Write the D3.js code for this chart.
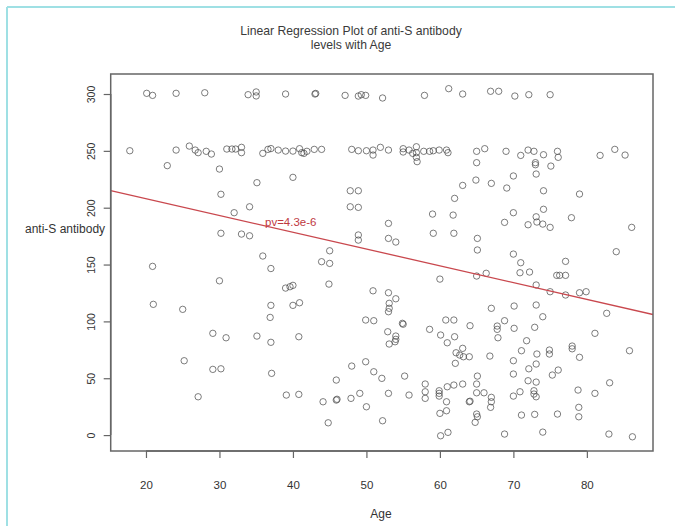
<!DOCTYPE html>
<html><head><meta charset="utf-8">
<script src="https://cdn.jsdelivr.net/npm/d3@7"></script>
<style>
body{margin:0;background:#fff;}
svg{display:block;font-family:"Liberation Sans",Arial,sans-serif;}
</style></head>
<body><svg id="c" width="675" height="526"></svg>
<script>
const titleLines = ["Linear Regression Plot of anti-S antibody", "levels with Age"];
const xLabel = "Age";
const yLabel = "anti-S antibody";
const pLabel = "pv=4.3e-6";
const xTicks = [20, 30, 40, 50, 60, 70, 80];
const yTicks = [0, 50, 100, 150, 200, 250, 300];
const regIntercept = 237.5;
const regSlope = -1.477;

const age = [20.1,20.9,24.1,28.0,33.9,35.0,35.0,39.0,43.0,43.1,47.1,48.9,49.3,49.9,52.2,57.9,61.2,63.1,66.9,68.0,70.2,72.1,75.0,
17.8,24.1,25.9,26.7,27.1,28.2,28.9,31.0,31.7,32.2,33.0,33.0,35.9,36.6,37.0,38.0,39.0,40.0,40.9,41.2,41.5,41.9,42.9,43.9,48.0,48.9,50.0,50.9,50.9,51.9,53.0,55.0,55.0,55.8,56.3,56.8,56.8,56.8,56.9,57.8,58.6,59.1,59.9,60.9,61.1,65.0,66.1,65.0,69.0,71.0,72.0,72.8,74.1,73.0,73.0,76.0,76.1,75.1,81.8,83.8,85.2,
22.9,30.0,40.0,35.1,30.2,34.1,32.0,30.2,33.0,34.1,35.9,37.0,20.9,47.8,48.9,47.8,48.9,63.1,64.9,67.0,62.0,59.0,61.8,68.8,53.0,59.1,61.9,48.9,48.9,53.0,54.0,65.1,65.1,45.0,43.9,45.0,70.0,73.1,69.1,74.1,79.0,70.0,74.1,73.1,73.2,74.0,75.0,72.0,77.9,86.1,70.0,71.0,77.1,84.0,
30.0,39.0,39.6,40.0,21.0,25.0,37.0,40.0,40.9,36.9,29.1,30.9,35.1,37.0,40.8,25.2,29.1,30.2,37.1,27.1,39.1,40.8,
44.9,60.0,65.0,66.3,50.9,53.0,54.0,53.1,53.1,53.0,49.9,51.0,54.9,55.0,52.9,54.0,54.0,53.1,53.9,67.0,68.8,60.8,61.9,64.1,58.6,60.1,61.0,62.0,67.8,67.8,67.9,62.2,63.1,62.7,63.2,64.0,66.8,62.1,48.0,49.9,51.0,52.1,55.2,45.9,58.0,58.0,58.0,59.9,59.9,59.9,61.0,61.9,63.1,65.0,65.0,66.0,67.0,67.0,66.9,65.1,44.1,45.9,46.0,47.9,49.1,53.0,55.8,50.0,44.8,52.2,60.9,60.0,60.9,64.0,64.1,65.0,65.1,64.8,60.1,61.1,68.8,
70.9,72.2,75.9,76.3,77.1,73.1,75.0,77.1,79.0,79.9,70.1,73.1,82.7,74.0,70.1,72.9,71.8,81.1,71.1,73.2,74.9,74.9,78.0,78.0,79.0,85.8,70.0,73.1,72.1,75.3,76.1,70.0,72.0,73.1,83.1,70.0,70.9,72.8,72.8,73.1,78.8,81.1,78.9,78.9,71.1,72.9,76.0,74.0,83.0,86.2];

const antibody = [300.6,298.8,300.6,301.1,299.4,301.8,298.3,300,300,300.5,298.8,298.2,299.4,298.8,296.5,298.8,304.7,300,302.4,302.4,298.2,299.4,299.4,
250.1,250.7,254.2,250.7,248.4,249.6,247.2,251.6,251.6,251.6,253.1,248.4,247.8,251.3,252,250.7,249.8,249.8,251.9,248.4,247.8,249.6,251.3,251.3,251.3,250.1,250.1,250.7,246.3,253.1,250.7,251.9,249,250.7,247.8,253.6,248.4,244.3,240.5,249.6,249.6,250.1,250.7,250.7,248.4,249.6,251.9,239.6,249.6,246,250.7,249.6,246.6,239.6,237.8,249.6,244.3,236.6,246,251.3,246.3,
237,234,226.7,222,211.8,200.8,195.6,177.5,176.8,175.3,157.5,146.5,148.4,214.9,214.9,200.8,200.3,219.6,224.3,221.4,208.2,194.4,193.5,187.1,186.2,177.5,177.5,176,171.5,173,169.8,173,162.8,162.1,152.5,151,227.9,229.6,217.3,214.9,212,195.6,198.6,192,187.4,185.6,182.7,185.0,191.2,182.7,159.2,151.6,152.8,161.3,
135.7,129.3,130.5,131.7,115,110.6,114.1,114.1,116.4,103.5,89.5,85.6,87.1,81.6,86.5,65.4,57.8,58.3,54.3,33.7,35.2,35.8,
132.8,137.2,139.9,142.3,126.9,125.2,119.9,115.9,111.5,108.5,101.2,100.6,98.3,97.5,90.9,87.1,84.2,80.1,82.1,111.5,100.6,101.2,101.2,96.2,93.0,88,81.2,86.5,95.9,93,85.6,72.4,76.3,70.4,68.9,68.9,69.5,63.1,60.7,64.5,55.7,49.9,51.9,48.4,44.9,38.1,32.3,39,36.7,34.3,42.5,44,44.9,44.9,37.2,37.2,33.2,29.3,24.4,51.9,29.3,30.8,31.5,32.3,36.7,36.7,35.2,24.9,10.8,12.6,29.3,19.1,21.4,29.3,29.8,18.5,16.1,11.2,-0.6,2.4,0.9,
142.8,143.4,140.5,140.5,140.5,132,126.1,123.2,125.2,126.1,113.5,114.4,107.1,104.1,93.9,94.8,83,89.5,74.2,71.3,74.8,71.3,78.3,75.9,68.4,74.2,65.4,62.5,58.3,52.8,57.2,53.7,47.8,46.6,46,34.3,38.1,39,36.1,33.7,39.6,36.7,24.4,16.1,17.6,18.2,18.5,2.6,0.9,-1.5];

const svg = d3.select("#c");
const FONT = "'Liberation Sans',Arial,sans-serif";
// cyan frame of the screenshot
svg.append("line").attr("x1",7).attr("y1",7).attr("x2",675).attr("y2",7).attr("stroke","#9fe0e4").attr("stroke-width",2);
svg.append("line").attr("x1",7).attr("y1",7).attr("x2",7).attr("y2",526).attr("stroke","#9fe0e4").attr("stroke-width",2);

const L = 110.7, R = 653, T = 74, B = 451;
const x = d3.scaleLinear().domain([15.2, 89]).range([L, R]);
const y = d3.scaleLinear().domain([-14, 317.6]).range([B, T]);

const data = age.map((a, i) => ({a, v: antibody[i]}));

// title
svg.append("g").selectAll("text").data(titleLines).join("text")
  .attr("x", 351).attr("y", (d, i) => 35 + i * 14)
  .attr("text-anchor", "middle").attr("font-size", 12.2).attr("fill", "#3a3a3a").text(d => d);

// points
svg.append("clipPath").attr("id","pc").append("rect")
  .attr("x", L).attr("y", T).attr("width", R - L).attr("height", B - T);
svg.append("g").selectAll("circle").data(data).join("circle")
  .attr("cx", d => x(d.a)).attr("cy", d => y(d.v)).attr("r", 3.2)
  .attr("fill", "none").attr("stroke", "#4a4a4a").attr("stroke-width", 0.9).attr("stroke-opacity", 0.8);

// regression line
const xd = x.domain();
svg.append("line").attr("clip-path","url(#pc)")
  .attr("x1", x(xd[0])).attr("y1", y(regIntercept + regSlope * xd[0]))
  .attr("x2", x(xd[1])).attr("y2", y(regIntercept + regSlope * xd[1]))
  .attr("stroke", "#c9484e").attr("stroke-width", 1.3);

svg.append("text").attr("x", 265).attr("y", 226).attr("font-size", 11.5)
  .attr("fill", "#c0393f").text(pLabel);

// box
svg.append("rect").attr("x", L).attr("y", T).attr("width", R - L).attr("height", B - T)
  .attr("fill", "none").attr("stroke", "#666").attr("stroke-width", 1.5);

// x axis
const xa = svg.append("g").attr("transform", `translate(0,${B})`)
  .call(d3.axisBottom(x).tickValues(xTicks).tickSize(7).tickPadding(23).tickFormat(d3.format("d")));
xa.select(".domain").attr("stroke", "#666").attr("stroke-width", 1.5)
  .attr("d", `M${x(xTicks[0])},0H${x(xTicks[xTicks.length-1])}`);
xa.selectAll(".tick line").attr("stroke", "#666").attr("stroke-width", 1.2);
xa.selectAll(".tick text").attr("font-size", 11.5).attr("fill", "#333").attr("font-family", FONT);

// y axis
const ya = svg.append("g").attr("transform", `translate(${L},0)`)
  .call(d3.axisLeft(y).tickValues(yTicks).tickSize(7).tickPadding(0).tickFormat(d3.format("d")));
ya.select(".domain").attr("stroke", "#666").attr("stroke-width", 1.5)
  .attr("d", `M0,${y(yTicks[0])}V${y(yTicks[yTicks.length-1])}`);
ya.selectAll(".tick line").attr("stroke", "#666").attr("stroke-width", 1.2);
ya.selectAll(".tick text").attr("font-size", 10.5).attr("fill", "#333").attr("font-family", FONT)
  .attr("x", null).attr("text-anchor", "middle")
  .attr("transform", "translate(-19,0) rotate(-90)").attr("y", 0).attr("dy", "0.35em");

// axis labels
svg.append("text").attr("x", 381).attr("y", 518).attr("text-anchor", "middle")
  .attr("font-size", 12).attr("fill", "#333").attr("font-family", FONT).text(xLabel);
svg.append("text").attr("x", 25).attr("y", 233).attr("font-size", 12)
  .attr("fill", "#333").attr("font-family", FONT).text(yLabel);
</script></body></html>
